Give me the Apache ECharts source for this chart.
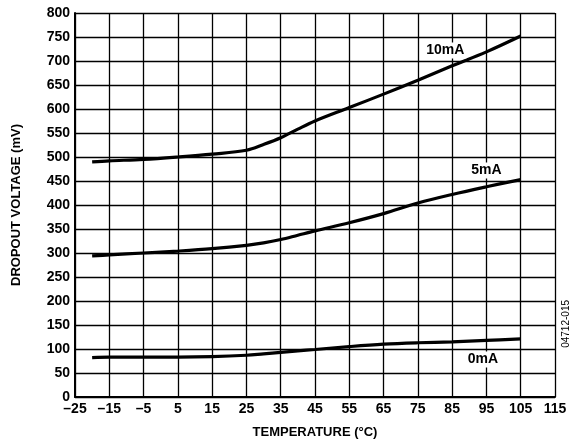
<!DOCTYPE html>
<html>
<head>
<meta charset="utf-8">
<script src="https://cdn.jsdelivr.net/npm/echarts@6/dist/echarts.min.js"></script>
<style>
  html, body { margin: 0; padding: 0; background: #fff; }
  #chart { width: 575px; height: 446px; }
</style>
</head>
<body>
<div id="chart"></div>
<script>
// Temperature sweep (°C)
const temperatures = [-20, -15, -5, 5, 15, 25, 30, 35, 40, 45, 55, 65, 75, 85, 95, 105];

// Dropout voltage (mV) per load current
const dropout10mA = [490, 492, 495, 500, 506, 514, 526, 540, 558, 575, 603, 631, 660, 690, 719, 752];
const dropout5mA  = [294, 296, 300, 304, 309, 316, 321, 328, 337, 346, 363, 382, 404, 422, 438, 453];
const dropout0mA  = [82, 83, 83, 83, 84, 87, 90, 93, 96, 99, 105, 110, 113, 115, 118, 121];

// Curve labels: [temperature, voltage, text]
const curveLabels = [
  [83, 722, '10mA'],
  [95, 472, '5mA'],
  [94, 78, '0mA']
];

// Axis settings
const xStart = -25, xEnd = 115, xStep = 10;
const yMin = 0, yMax = 800, yStep = 50;

const FONT = '"Liberation Sans", Arial, Helvetica, sans-serif';

// The x axis runs from 0 so that ticks land on -25, -15, ... after offsetting.
const toAxisX = t => t - xStart;
const pairs = vals => temperatures.map((t, i) => [toAxisX(t), vals[i]]);

const lineSeries = vals => ({
  type: 'line',
  data: pairs(vals),
  smooth: 0.35,
  showSymbol: false,
  symbol: 'none',
  lineStyle: { color: '#000', width: 3.2 },
  z: 5
});

const chart = echarts.init(document.getElementById('chart'), null, { renderer: 'canvas' });

chart.setOption({
  animation: false,
  backgroundColor: '#fff',
  grid: { left: 75, top: 13, right: 20, bottom: 49, containLabel: false },
  xAxis: {
    type: 'value',
    min: 0,
    max: xEnd - xStart,
    interval: xStep,
    name: 'TEMPERATURE (\u00B0C)',
    nameLocation: 'middle',
    nameGap: 29,
    nameTextStyle: { fontFamily: FONT, fontWeight: 'bold', fontSize: 13, color: '#000' },
    axisLine: { show: true, lineStyle: { color: '#000', width: 2 } },
    axisTick: { show: false },
    axisLabel: {
      fontFamily: FONT, fontWeight: 'bold', fontSize: 14, color: '#000', margin: 5,
      formatter: v => String(v + xStart).replace('-', '\u2013')
    },
    splitLine: { show: true, lineStyle: { color: '#000', width: 1.3 } }
  },
  yAxis: {
    type: 'value',
    min: yMin,
    max: yMax,
    interval: yStep,
    name: 'DROPOUT VOLTAGE (mV)',
    nameLocation: 'middle',
    nameGap: 52,
    nameRotate: 90,
    nameTextStyle: { fontFamily: FONT, fontWeight: 'bold', fontSize: 13, color: '#000' },
    axisLine: { show: true, lineStyle: { color: '#000', width: 2 } },
    axisTick: { show: false },
    axisLabel: { fontFamily: FONT, fontWeight: 'bold', fontSize: 14, color: '#000', margin: 5 },
    splitLine: { show: true, lineStyle: { color: '#000', width: 1.3 } }
  },
  series: [
    lineSeries(dropout10mA),
    lineSeries(dropout5mA),
    lineSeries(dropout0mA),
    {
      type: 'scatter',
      symbolSize: 0,
      itemStyle: { opacity: 1, color: '#000' },
      data: curveLabels.map(d => ({ value: [toAxisX(d[0]), d[1]], name: d[2] })),
      label: {
        show: true,
        position: 'inside',
        formatter: p => p.name,
        fontFamily: FONT, fontWeight: 'bold', fontSize: 14, color: '#000',
        textBorderWidth: 0, opacity: 1,
        backgroundColor: '#fff', padding: [1, 2]
      },
      z: 6
    }
  ],
  graphic: [
    {
      type: 'text',
      left: 561,
      top: 300,
      rotation: Math.PI / 2,
      style: { text: '04712-015', fontFamily: FONT, fontSize: 10, fill: '#000' }
    }
  ]
});
</script>
</body>
</html>
